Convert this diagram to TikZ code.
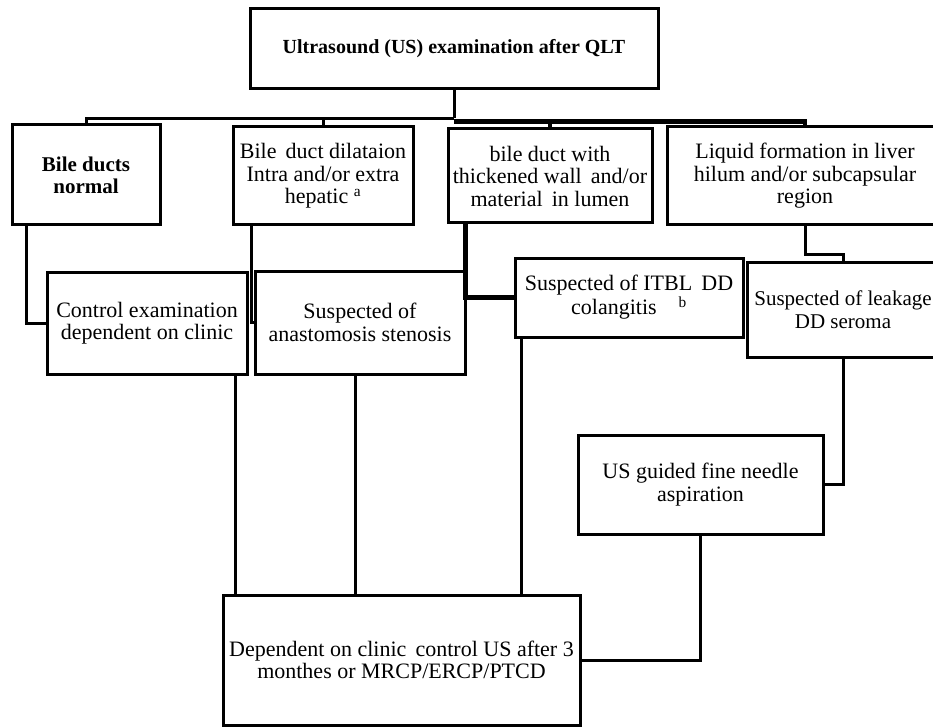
\documentclass[tikz,border=0pt]{standalone}
\usepackage{fontspec}
\setmainfont{Liberation Serif}

\begin{document}
\begin{tikzpicture}[x=1pt,y=-1pt,
	box/.style={draw,line width=3pt,align=center,inner sep=0pt,font=\fontsize{22}{22.5}\selectfont},
	boldbox/.style={box,font=\fontsize{21}{22}\selectfont\bfseries},
	link/.style={line width=3pt},
	mainlink/.style={line width=4.5pt}]
	\useasboundingbox (0,0) rectangle (933,727);
	\begin{scope}
	\clip (0,0) rectangle (933,727);
	\node[boldbox,font=\fontsize{20}{22}\selectfont\bfseries,minimum width=408pt,minimum height=80pt] (us) at (454,49) {Ultrasound (US) examination after QLT};
	\node[boldbox,minimum width=148pt,minimum height=100pt] (normal) at (86,175) {Bile ducts\\normal};
	\node[box,minimum width=180pt,minimum height=98pt] (dilat) at (323,176) {Bile\, duct dilataion\\Intra and/or extra\\hepatic \textsuperscript{a}};
	\node[box,minimum width=204pt,minimum height=94pt] (thick) at (550,176) {bile duct with\\thickened wall\, and/or\\material\, in lumen};
	\node[box,minimum width=276pt,minimum height=98pt] (liquid) at (805,176) {Liquid formation in liver\\hilum and/or subcapsular\\region};
	\node[box,minimum width=200pt,minimum height=102pt] (control) at (147,323) {Control examination\\dependent on clinic};
	\node[box,minimum width=210pt,minimum height=103pt] (stenosis) at (360,322.5) {Suspected of\\anastomosis stenosis};
	\node[box,minimum width=228pt,minimum height=79pt] (itbl) at (629,297.5) {Suspected of ITBL\, DD\\colangitis\quad\textsuperscript{b}};
	\node[box,font=\fontsize{21}{22.5}\selectfont,minimum width=192pt,minimum height=95pt] (leak) at (843,309.5) {Suspected of leakage\\DD seroma};
	\node[box,minimum width=245pt,minimum height=99pt] (fna) at (700.5,484.5) {US guided fine needle\\aspiration};
	\node[box,minimum width=357pt,minimum height=130pt] (depend) at (401.5,660) {Dependent on clinic\, control US after 3\\monthes or MRCP/ERCP/PTCD};

	\draw[link] (us.south) -- ++(0,28) coordinate (hub);
	\draw[link] (hub) -| (normal.north);
	\draw[link] (hub) -| (dilat.north);
	\draw[mainlink] ([yshift=-3pt]hub) -| (thick.north);
	\draw[mainlink] ([yshift=-3pt]hub) -| (liquid.north);

	\draw[link] ([xshift=16pt]normal.south west) |- (control.west);
	\draw[link] ([xshift=20pt]dilat.south west) |- (stenosis.west);
	\draw[mainlink] ([xshift=19pt]thick.south west) |- (itbl.west);
	\draw[link] (liquid.south) -- ++(0,28) -| (leak.north);
	\draw[link] (leak.south) |- (fna.east);
	\draw[link] (fna.south) |- (depend.east);

	\coordinate (c1) at ([xshift=-13pt]control.south east);
	\coordinate (c2) at ([xshift=-5pt]stenosis.south);
	\coordinate (c3) at ([xshift=8pt]itbl.south west);
	\draw[link] (c1) -- (c1 |- depend.north);
	\draw[link] (c2) -- (c2 |- depend.north);
	\draw[link] (c3) -- (c3 |- depend.north);
	\end{scope}
\end{tikzpicture}
\end{document}
